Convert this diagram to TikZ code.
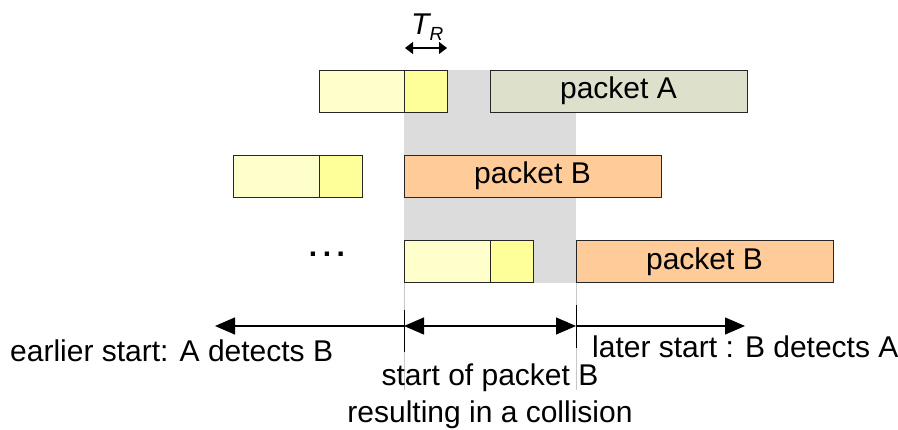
\documentclass[tikz,border=0pt]{standalone}
\usepackage{fontspec}
\setmainfont{Liberation Sans}
\usetikzlibrary{arrows.meta}
\definecolor{preamblecol}{HTML}{FFFFCC}
\definecolor{trcol}{HTML}{FFFF99}
\definecolor{pktAcol}{HTML}{DDE0CB}
\definecolor{pktBcol}{HTML}{FFCC99}
\definecolor{vulncol}{HTML}{DCDCDC}
\definecolor{guidecol}{HTML}{C8C8C8}
\tikzset{
  cell/.style={draw=black!85, line width=0.9pt, inner sep=0pt, minimum height=42pt,
    font=\fontsize{30}{36}\selectfont},
  pre/.style={cell, fill=preamblecol},
  tr/.style={cell, fill=trcol, minimum width=43pt},
  pktA/.style={cell, fill=pktAcol, minimum width=257pt},
  pktB/.style={cell, fill=pktBcol, minimum width=257pt},
  lbl/.style={font=\fontsize{30}{36}\selectfont, inner sep=0pt},
  span/.style={line width=1.2pt, -{Triangle[length=20pt,width=17pt]}},
  bispan/.style={line width=1.2pt, {Triangle[length=20pt,width=17pt]}-{Triangle[length=20pt,width=17pt]}},
  guide/.style={guidecol, line width=0.8pt},
  tick/.style={black, line width=1pt}
}
\begin{document}
\begin{tikzpicture}[x=1pt,y=-1pt]
\useasboundingbox (0,0) rectangle (898,430);

% vulnerable window
\fill[vulncol] (404,70) rectangle (576,283);
\coordinate (g1t) at (404,283); \coordinate (g1b) at (404,390);
\coordinate (g2t) at (576,283); \coordinate (g2b) at (576,390);
\draw[guide] (g1t) -- (g1b);
\draw[guide] (g2t) -- (g2b);

% row 1: station A
\node[pre, minimum width=85pt] (pre1) at (361.5,91) {};
\node[tr] (tr1) at (425.5,91) {};
\node[pktA] (pA) at (618.5,91) {packet A};

% row 2: station B starting together with A
\node[pre, minimum width=86pt] (pre2) at (276,176) {};
\node[tr] (tr2) at (340.5,176) {};
\node[pktB] (pB1) at (532.5,176) {packet B};

% row 3: station B starting later
\node[pre, minimum width=86pt] (pre3) at (447,261.5) {};
\node[tr] (tr3) at (511.5,261.5) {};
\node[pktB] (pB2) at (704.5,261.5) {packet B};

\node[lbl, font=\fontsize{30}{36}\selectfont\bfseries] (dots) at (327,254) {.\hspace{5.5pt}.\hspace{5.5pt}.};

% turnaround time
\node[lbl, anchor=base west] (trlbl) at (411,35)
  {\itshape T\raisebox{-6pt}{\fontsize{19}{20}\selectfont R}};
\coordinate (tra) at (405,48); \coordinate (trb) at (447,48);
\draw[line width=1.1pt, {Triangle[length=8pt,width=12pt]}-{Triangle[length=8pt,width=12pt]}] (tra) -- (trb);

% time axis
\coordinate (m1) at (404,326); \coordinate (m2) at (576,326);
\coordinate (lend) at (215,326); \coordinate (rend) at (745,326);
\coordinate (k1t) at (404,310); \coordinate (k1b) at (404,352);
\coordinate (k2t) at (576,305); \coordinate (k2b) at (576,348);
\draw[tick] (k1t) -- (k1b);
\draw[tick] (k2t) -- (k2b);
\draw[span] (m1) -- (lend);
\draw[bispan] (m1) -- (m2);
\draw[span] (m2) -- (rend);

\node[lbl, anchor=base west] (early) at (10,362) {earlier start: A detects B};
\node[lbl, anchor=base west] (late) at (592,358) {later start : B detects A};
\node[lbl, anchor=base] (coll1) at (490,386) {start of packet B};
\node[lbl, anchor=base] (coll2) at (490,423) {resulting in a collision};
\end{tikzpicture}
\end{document}
